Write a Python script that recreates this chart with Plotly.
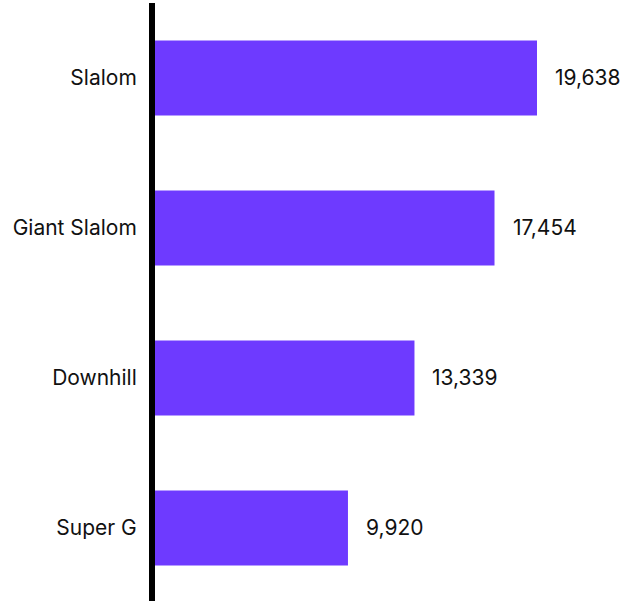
import plotly.graph_objects as go

categories = ["Slalom", "Giant Slalom", "Downhill", "Super G"]
values = [19638, 17454, 13339, 9920]

FONT = dict(family="Inter", size=21, color="#111111")

fig = go.Figure()
fig.add_trace(go.Bar(
    x=values, y=categories, orientation="h",
    marker=dict(color="#6E3AFF", line=dict(width=0)),
    width=0.5, hoverinfo="skip",
))
for c, v in zip(categories, values):
    fig.add_annotation(x=v, y=c, text=f"{v:,}", showarrow=False,
                       xanchor="left", yanchor="middle", xshift=16,
                       font=FONT)

fig.update_layout(
    width=627, height=601,
    margin=dict(l=155, r=0, t=3, b=0),
    paper_bgcolor="white", plot_bgcolor="white",
    showlegend=False,
    font=FONT,
    xaxis=dict(range=[0, 24265], visible=False, showgrid=False, zeroline=False),
    yaxis=dict(range=[3.487, -0.5], showgrid=False, zeroline=False,
               showline=True, linecolor="black", linewidth=6,
               ticks="", ticklabelstandoff=8,
               tickfont=FONT),
)
fig.write_html("out.html", config={"displayModeBar": False},
               post_script="document.body.style.margin='0';document.body.style.overflow='hidden';")
